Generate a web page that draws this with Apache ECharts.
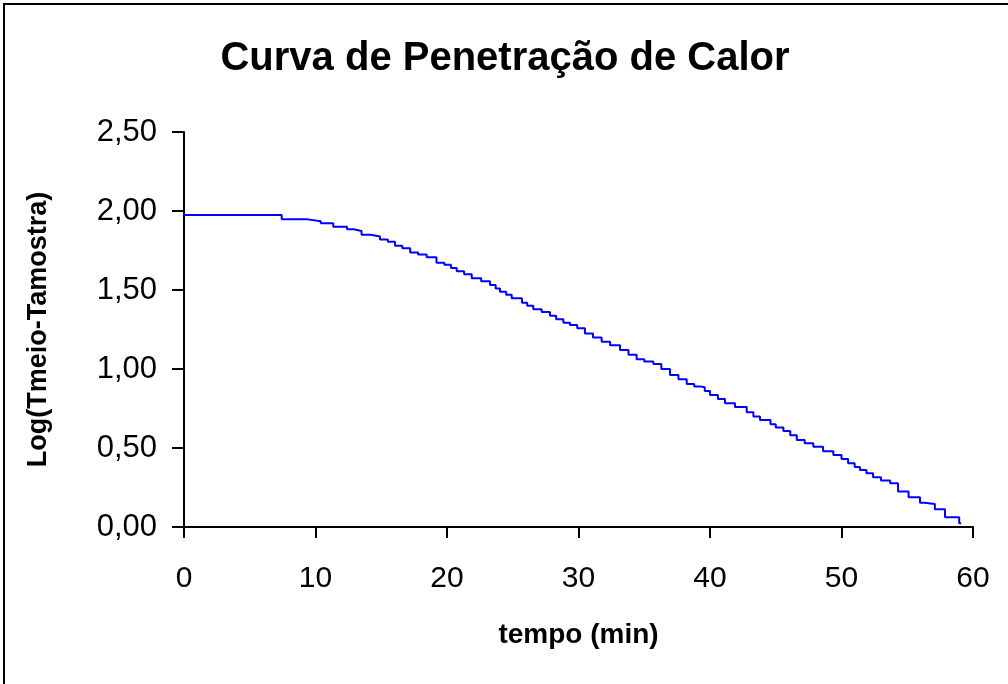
<!DOCTYPE html>
<html>
<head>
<meta charset="utf-8">
<script src="https://cdn.jsdelivr.net/npm/echarts@6/dist/echarts.min.js"></script>
<style>
html,body{margin:0;padding:0;background:#fff;}
#chart{width:1008px;height:684px;}
</style>
</head>
<body>
<div id="chart"></div>
<script>
// Time in minutes at which each reading level starts
var tempo = [0, 7.43, 9.4, 10.4, 11.35, 12.4, 12.9, 13.5, 14.2, 14.9, 15.5, 16.05, 16.6, 17.2, 17.8, 18.45, 19.2, 19.8, 20.3, 20.74, 21.3, 21.88, 22.6, 23.27, 23.7, 24.03, 24.5, 24.92, 25.7, 26.1, 26.56, 27.2, 27.83, 28.3, 28.85, 29.35, 29.9, 30.49, 31.1, 31.76, 32.4, 33.16, 33.8, 34.42, 35.0, 35.69, 36.3, 36.96, 37.6, 38.23, 38.8, 39.24, 39.6, 40.0, 40.6, 41.14, 41.9, 42.79, 43.3, 43.8, 44.6, 45.0, 45.58, 46.1, 46.6, 47.2, 47.86, 48.6, 49.38, 50.0, 50.5, 51.0, 51.4, 51.9, 52.4, 53.0, 53.7, 54.3, 55.1, 55.97, 56.3, 57.1, 57.87, 58.95, 59.1];
// Log(Tmeio - Tamostra)
var logDiff = [1.975, 1.947, 1.935, 1.922, 1.900, 1.884, 1.873, 1.850, 1.838, 1.820, 1.805, 1.780, 1.765, 1.738, 1.725, 1.707, 1.673, 1.660, 1.640, 1.618, 1.600, 1.574, 1.555, 1.532, 1.510, 1.489, 1.470, 1.447, 1.420, 1.400, 1.378, 1.360, 1.337, 1.315, 1.293, 1.278, 1.258, 1.225, 1.200, 1.173, 1.150, 1.120, 1.090, 1.061, 1.048, 1.032, 1.000, 0.962, 0.935, 0.905, 0.890, 0.884, 0.860, 0.835, 0.810, 0.783, 0.760, 0.726, 0.700, 0.677, 0.650, 0.630, 0.608, 0.580, 0.551, 0.530, 0.508, 0.480, 0.456, 0.430, 0.403, 0.380, 0.361, 0.340, 0.315, 0.295, 0.277, 0.224, 0.188, 0.154, 0.146, 0.112, 0.061, 0.023, 0.023];
var xTicks = [0, 10, 20, 30, 40, 50, 60];
var yTicks = [0, 0.5, 1.0, 1.5, 2.0, 2.5];

var pts = tempo.map(function (t, i) { return [t, logDiff[i]]; });

var chart = echarts.init(document.getElementById('chart'), null, {renderer: 'canvas'});
var font = 'Liberation Sans, Arial, Helvetica, sans-serif';
chart.setOption({
  backgroundColor: '#fff',
  animation: false,
  title: {
    text: 'Curva de Penetração de Calor',
    left: 500, textAlign: 'center', top: 34,
    textStyle: {fontFamily: font, fontSize: 40, fontWeight: 'bold', color: '#000'}
  },
  graphic: [{
    type: 'rect', silent: true,
    shape: {x: 4, y: 4, width: 1010, height: 700},
    style: {fill: 'none', stroke: '#000', lineWidth: 2}
  }],
  grid: {left: 184, right: 35, top: 132, bottom: 157},
  xAxis: {
    type: 'value', min: xTicks[0], max: xTicks[xTicks.length - 1], interval: 10,
    name: 'tempo (min)', nameLocation: 'middle', nameGap: 94,
    nameTextStyle: {fontFamily: font, fontSize: 28, fontWeight: 'bold', color: '#000'},
    axisLine: {onZero: false, lineStyle: {color: '#000', width: 2}},
    axisTick: {show: true, length: 11, inside: false, lineStyle: {color: '#000', width: 2}},
    axisLabel: {margin: 37, fontFamily: font, fontSize: 30, color: '#000'},
    splitLine: {show: false}
  },
  yAxis: {
    type: 'value', min: yTicks[0], max: yTicks[yTicks.length - 1], interval: 0.5,
    name: 'Log(Tmeio-Tamostra)', nameLocation: 'middle', nameGap: 132, nameRotate: 90,
    nameTextStyle: {fontFamily: font, fontSize: 27, fontWeight: 'bold', color: '#000'},
    axisLine: {show: true, lineStyle: {color: '#000', width: 2}},
    axisTick: {show: true, length: 12, inside: false, lineStyle: {color: '#000', width: 2}},
    axisLabel: {
      margin: 27, fontFamily: font, fontSize: 31, color: '#000',
      formatter: function (v) { return v.toFixed(2).replace('.', ','); }
    },
    splitLine: {show: false}
  },
  series: [{
    type: 'line', data: pts, step: 'end', showSymbol: false, symbol: 'none',
    lineStyle: {color: '#0000ff', width: 2},
    z: 1
  }]
});
</script>
</body>
</html>
